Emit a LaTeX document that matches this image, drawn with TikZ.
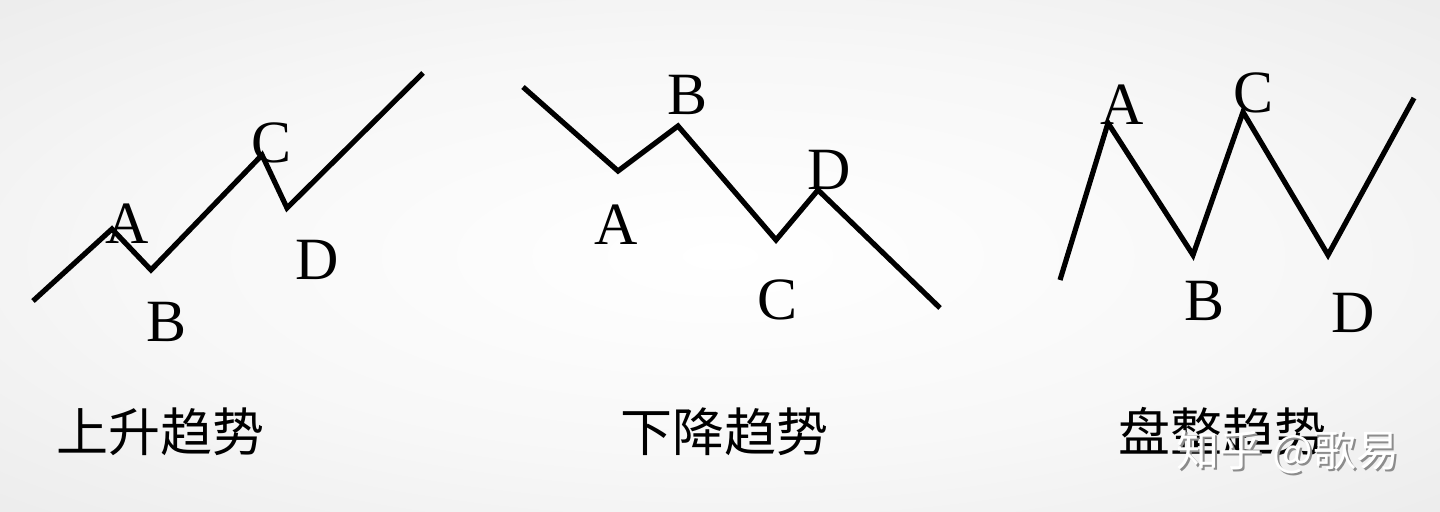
\documentclass[tikz,border=0pt]{standalone}
\usepackage{fontspec}
\setmainfont{Liberation Serif}
\newfontfamily\cjk{Noto Sans CJK SC}
\usetikzlibrary{positioning}

\pgfdeclareradialshading{bgglow}{\pgfpoint{0bp}{0bp}}{color(0bp)=(white); color(20bp)=(black!3); color(71bp)=(black!17)}

\tikzset{
  trend/.style={line width=2.6pt, black},
  pt/.style={font=\fontsize{30}{30}\selectfont, inner sep=0pt},
  title/.style={font=\cjk\fontsize{26}{26}\selectfont, inner sep=0pt},
  mark0/.style={font=\cjk\fontsize{21.5}{21.5}\selectfont, inner sep=0pt}
}

\begin{document}
\begin{tikzpicture}[x=0.5pt,y=-0.5pt, line join=miter]
            \useasboundingbox (0,0) rectangle (1440,512);
            \shade[shading=bgglow] (0,0) rectangle (1440,512);
            % up
            \coordinate (u0) at (33,301);
            \coordinate (uA) at (112,229);
            \coordinate (uB) at (151,270);
            \coordinate (uC) at (262,155);
            \coordinate (uD) at (287,208);
            \coordinate (u1) at (423,73);
            \draw[trend] (u0) -- (uA) -- (uB) -- (uC) -- (uD) -- (u1);
            \node[pt] (lA) at (127,224) {A};
            \node[pt] (lB) at (167,322) {B};
            \node[pt] (lC) at (272,143) {C};
            \node[pt] (lD) at (317,260) {D};
            \node[title] (t1) at (160,432) {上升趋势};
            % down
            \coordinate (d0) at (523,87);
            \coordinate (dA) at (618,171);
            \coordinate (dB) at (678,126);
            \coordinate (dC) at (776,240);
            \coordinate (dD) at (818,190);
            \coordinate (d1) at (940,308);
            \draw[trend] (d0) -- (dA) -- (dB) -- (dC) -- (dD) -- (d1);
            \node[pt] (mA) at (616,225) {A};
            \node[pt] (mB) at (688,95) {B};
            \node[pt] (mC) at (778,300) {C};
            \node[pt] (mD) at (829,170) {D};
            \node[title] (t2) at (724,432) {下降趋势};
            % range
            \coordinate (r0) at (1060,280);
            \coordinate (rA) at (1108,123);
            \coordinate (rB) at (1193,255);
            \coordinate (rC) at (1243,112);
            \coordinate (rD) at (1328,255);
            \coordinate (r1) at (1414,98);
            \draw[trend] (r0) -- (rA) -- (rB) -- (rC) -- (rD) -- (r1);
            \node[pt] (nA) at (1122,105) {A};
            \node[pt] (nB) at (1204,301) {B};
            \node[pt] (nC) at (1253,93) {C};
            \node[pt] (nD) at (1353,313) {D};
            \node[title] (t3) at (1222,432) {盘整趋势};
            % watermark
            \node[mark0, black!45] (w0) at (1290,454) {知乎 @歌易};
            \node[mark0, white] (w1) at (1288,452) {知乎 @歌易};
\end{tikzpicture}
\end{document}
